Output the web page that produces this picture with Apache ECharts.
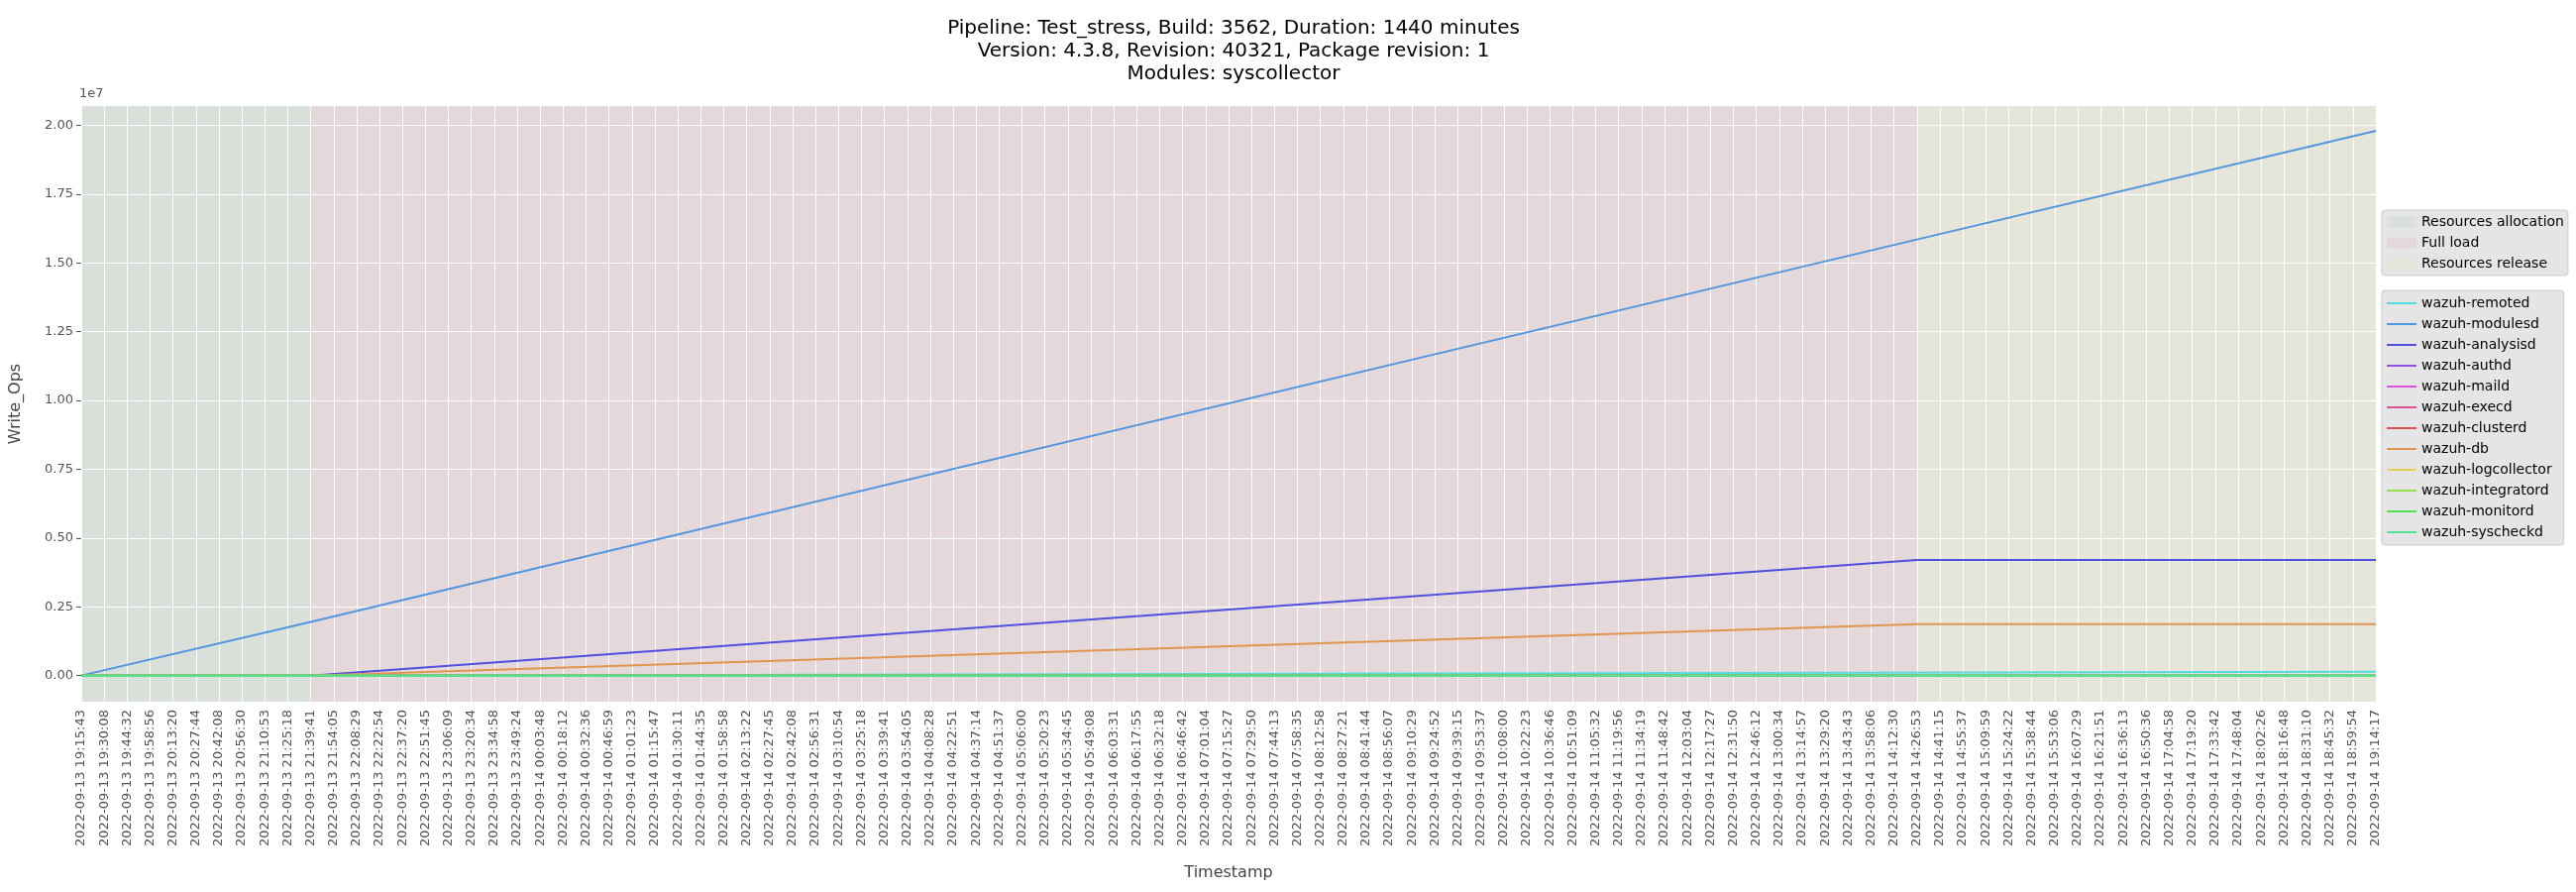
<!DOCTYPE html>
<html><head><meta charset="utf-8">
<script src="https://cdn.jsdelivr.net/npm/echarts@6/dist/echarts.min.js"></script>
<style>html,body{margin:0;padding:0;background:#fff}#c{width:2600px;height:900px}</style>
</head><body><div id="c"></div>
<script>
const day13 = ["19:15:43","19:30:08","19:44:32","19:58:56","20:13:20","20:27:44","20:42:08","20:56:30","21:10:53","21:25:18","21:39:41","21:54:05","22:08:29","22:22:54","22:37:20","22:51:45","23:06:09","23:20:34","23:34:58","23:49:24"];
const day14 = ["00:03:48","00:18:12","00:32:36","00:46:59","01:01:23","01:15:47","01:30:11","01:44:35","01:58:58","02:13:22","02:27:45","02:42:08","02:56:31","03:10:54","03:25:18","03:39:41","03:54:05","04:08:28","04:22:51","04:37:14","04:51:37","05:06:00","05:20:23","05:34:45","05:49:08","06:03:31","06:17:55","06:32:18","06:46:42","07:01:04","07:15:27","07:29:50","07:44:13","07:58:35","08:12:58","08:27:21","08:41:44","08:56:07","09:10:29","09:24:52","09:39:15","09:53:37","10:08:00","10:22:23","10:36:46","10:51:09","11:05:32","11:19:56","11:34:19","11:48:42","12:03:04","12:17:27","12:31:50","12:46:12","13:00:34","13:14:57","13:29:20","13:43:43","13:58:06","14:12:30","14:26:53","14:41:15","14:55:37","15:09:59","15:24:22","15:38:44","15:53:06","16:07:29","16:21:51","16:36:13","16:50:36","17:04:58","17:19:20","17:33:42","17:48:04","18:02:26","18:16:48","18:31:10","18:45:32","18:59:54","19:14:17"];
const categories = day13.map(t => "2022-09-13 " + t).concat(day14.map(t => "2022-09-14 " + t));
const last = categories.length - 1;

const seriesNames = ["wazuh-remoted","wazuh-modulesd","wazuh-analysisd","wazuh-authd","wazuh-maild","wazuh-execd","wazuh-clusterd","wazuh-db","wazuh-logcollector","wazuh-integratord","wazuh-monitord","wazuh-syscheckd"];
const seriesColors = ["#50dde0","#5096e0","#5050e0","#9050e0","#e050e0","#e05096","#e05050","#e09650","#e0d050","#96e050","#50e050","#50e096"];
// key points [category index, value]
const remoted = [[0,0],[10,0],[last,140000]];
const modulesd = [[0,0],[10,1950000],[80,15850000],[last,19800000]];
const analysisd = [[0,0],[10,0],[80,4200000],[last,4200000]];
const db = [[0,0],[10,0],[80,1870000],[last,1870000]];
const zeroLine = [[0,0],[last,0]];
const seriesData = [remoted, modulesd, analysisd, zeroLine, zeroLine, zeroLine, zeroLine, db, zeroLine, zeroLine, zeroLine, zeroLine];

const phaseNames = ["Resources allocation","Full load","Resources release"];
const phaseColors = ["#d9e0da","#e5d8da","#e5e5d9"];
const phaseBounds = [[0,10],[10,80],[80,last]];
const yTicks = [0,2500000,5000000,7500000,10000000,12500000,15000000,17500000,20000000];

const chart = echarts.init(document.getElementById('c'));
const series = [];
phaseNames.forEach((n,i)=>{
  series.push({name:n,type:'line',data:[],z:-5,color:phaseColors[i],itemStyle:{color:phaseColors[i]},
    markArea:{silent:true,itemStyle:{color:phaseColors[i]},data:[[{xAxis:phaseBounds[i][0]},{xAxis:phaseBounds[i][1]}]]}});
});
series.push({type:'line',data:[],z:-1,silent:true,
  markLine:{silent:true,symbol:'none',label:{show:false},lineStyle:{color:'#ffffff',width:1,type:'solid'},
    data:yTicks.map(v=>({yAxis:v})).concat(categories.map((c,i)=>({xAxis:i})))}});
seriesNames.forEach((n,i)=>{
  series.push({name:n,type:'line',data:seriesData[i],showSymbol:false,symbol:'none',color:seriesColors[i],
    lineStyle:{width:2,color:seriesColors[i]},z:10+i});
});
chart.setOption({
  animation:false,
  textStyle:{fontFamily:'DejaVu Sans'},
  title:{text:'Pipeline: Test_stress, Build: 3562, Duration: 1440 minutes\nVersion: 4.3.8, Revision: 40321, Package revision: 1\nModules: syscollector',
    left:1240,top:12,textAlign:'center',textStyle:{fontSize:20,fontWeight:'normal',color:'#000',lineHeight:23}},
  grid:{left:80,right:202,top:107,bottom:192,backgroundColor:'#e5e5e5',show:true,borderWidth:0},
  legend:[
    {data:phaseNames,orient:'vertical',left:2404,top:212,icon:'rect',itemWidth:30,itemHeight:11,itemGap:7,
      backgroundColor:'#e5e5e5',borderColor:'#cccccc',borderWidth:1,borderRadius:3,padding:[5,4,5,5],
      textStyle:{fontSize:14,color:'#000',lineHeight:14}},
    {data:seriesNames,orient:'vertical',left:2404,top:293,icon:'rect',itemWidth:30,itemHeight:2,itemGap:7,
      backgroundColor:'#e5e5e5',borderColor:'#cccccc',borderWidth:1,borderRadius:3,padding:[6,12,6,5],
      textStyle:{fontSize:14,color:'#000',lineHeight:14}}
  ],
  xAxis:{type:'category',data:categories,boundaryGap:false,name:'Timestamp',nameLocation:'middle',nameGap:165,
    nameTextStyle:{fontSize:16,color:'#444'},
    axisLine:{show:false},axisTick:{show:true,alignWithLabel:true,length:5,lineStyle:{color:'#555'}},
    axisLabel:{interval:0,rotate:90,fontSize:13,color:'#555',margin:8},splitLine:{show:false}},
  yAxis:{type:'value',min:-950000,max:20700000,name:'Write_Ops',nameLocation:'middle',nameGap:58,
    nameTextStyle:{fontSize:16,color:'#444'},
    axisLine:{show:false},splitLine:{show:false},
    axisTick:{show:true,length:5,lineStyle:{color:'#555'},customValues:yTicks},
    axisLabel:{fontSize:13,color:'#555',customValues:yTicks,formatter:v=>(v/1e7).toFixed(2)}},
  graphic:[{type:'text',left:80,top:88,style:{text:'1e7',fontSize:13,fill:'#555',fontFamily:'DejaVu Sans'}}],
  series:series
});
</script></body></html>
